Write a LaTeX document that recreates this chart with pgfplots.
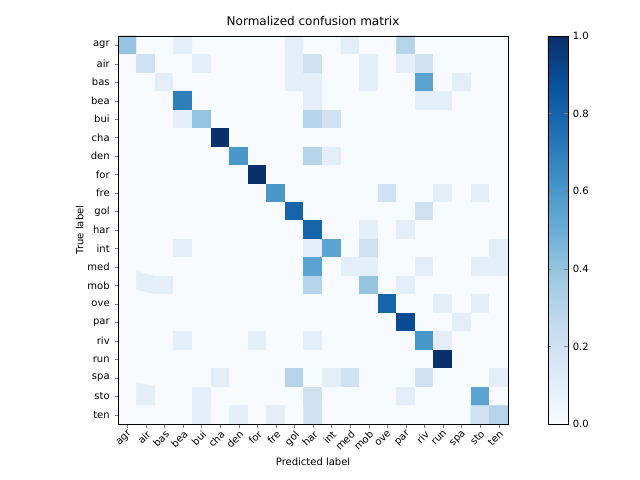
\documentclass[border=0pt]{standalone}
\usepackage{pgfplots}
\pgfplotsset{compat=1.18}
\usepackage{pgfplotstable}
\usepackage{fontspec}
\setmainfont{DejaVu Sans}
\pgfplotstableread[row sep=\\,header=false]{
0.4\\0\\0\\0.1\\0\\0\\0\\0\\0\\0.1\\0\\0\\0.1\\0\\0\\0.3\\0\\0\\0\\0\\0\\
0\\0.2\\0\\0\\0.1\\0\\0\\0\\0\\0.1\\0.2\\0\\0\\0.1\\0\\0.1\\0.2\\0\\0\\0\\0\\
0\\0\\0.1\\0\\0\\0\\0\\0\\0\\0.1\\0.1\\0\\0\\0.1\\0\\0\\0.55\\0\\0.1\\0\\0\\
0\\0\\0\\0.7\\0\\0\\0\\0\\0\\0\\0.1\\0\\0\\0\\0\\0\\0.1\\0.1\\0\\0\\0\\
0\\0\\0\\0.1\\0.4\\0\\0\\0\\0\\0\\0.3\\0.2\\0\\0\\0\\0\\0\\0\\0\\0\\0\\
0\\0\\0\\0\\0\\1\\0\\0\\0\\0\\0\\0\\0\\0\\0\\0\\0\\0\\0\\0\\0\\
0\\0\\0\\0\\0\\0\\0.6\\0\\0\\0\\0.3\\0.1\\0\\0\\0\\0\\0\\0\\0\\0\\0\\
0\\0\\0\\0\\0\\0\\0\\1\\0\\0\\0\\0\\0\\0\\0\\0\\0\\0\\0\\0\\0\\
0\\0\\0\\0\\0\\0\\0\\0\\0.6\\0\\0\\0\\0\\0\\0.2\\0\\0\\0.1\\0\\0.1\\0\\
0\\0\\0\\0\\0\\0\\0\\0\\0\\0.8\\0\\0\\0\\0\\0\\0\\0.2\\0\\0\\0\\0\\
0\\0\\0\\0\\0\\0\\0\\0\\0\\0\\0.8\\0\\0\\0.1\\0\\0.1\\0\\0\\0\\0\\0\\
0\\0\\0\\0.1\\0\\0\\0\\0\\0\\0\\0.1\\0.55\\0\\0.2\\0\\0\\0\\0\\0\\0\\0.1\\
0\\0\\0\\0\\0\\0\\0\\0\\0\\0\\0.55\\0\\0.1\\0.1\\0\\0\\0.1\\0\\0\\0.1\\0.1\\
0\\0.1\\0.1\\0\\0\\0\\0\\0\\0\\0\\0.3\\0\\0\\0.4\\0\\0.1\\0\\0\\0\\0\\0\\
0\\0\\0\\0\\0\\0\\0\\0\\0\\0\\0\\0\\0\\0\\0.8\\0\\0\\0.1\\0\\0.1\\0\\
0\\0\\0\\0\\0\\0\\0\\0\\0\\0\\0\\0\\0\\0\\0\\0.9\\0\\0\\0.1\\0\\0\\
0\\0\\0\\0.1\\0\\0\\0\\0.1\\0\\0\\0.1\\0\\0\\0\\0\\0\\0.6\\0.1\\0\\0\\0\\
0\\0\\0\\0\\0\\0\\0\\0\\0\\0\\0\\0\\0\\0\\0\\0\\0\\1\\0\\0\\0\\
0\\0\\0\\0\\0\\0.1\\0\\0\\0\\0.3\\0\\0.1\\0.2\\0\\0\\0\\0.2\\0\\0\\0\\0.1\\
0\\0.1\\0\\0\\0.1\\0\\0\\0\\0\\0\\0.2\\0\\0\\0\\0\\0.1\\0\\0\\0\\0.55\\0\\
0\\0\\0\\0\\0.1\\0\\0.1\\0\\0.1\\0\\0.2\\0\\0\\0\\0\\0\\0\\0\\0\\0.2\\0.3\\
}\cm
\pgfplotsset{colormap={Blues}{rgb255=(247,251,255) rgb255=(222,235,247) rgb255=(198,219,239) rgb255=(158,202,225) rgb255=(107,174,214) rgb255=(66,146,198) rgb255=(33,113,181) rgb255=(8,81,156) rgb255=(8,48,107)}}
\begin{document}
\begin{tikzpicture}
\useasboundingbox (0,0) rectangle (460.8pt,345.6pt);
\begin{axis}[at={(85pt,40.3pt)},anchor=south west,
 scale only axis, width=280.8pt, height=279.4pt,
 xmin=-0.5,xmax=20.5,ymin=-0.5,ymax=20.5,y dir=reverse,
 enlargelimits=false, axis on top,
 xtick={0,...,20}, ytick={0,...,20},
 xticklabels={agr,air,bas,bea,bui,cha,den,for,fre,gol,har,int,med,mob,ove,par,riv,run,spa,sto,ten},
 yticklabels={agr,air,bas,bea,bui,cha,den,for,fre,gol,har,int,med,mob,ove,par,riv,run,spa,sto,ten},
 xticklabel style={rotate=45,anchor=north east,inner sep=1pt},
 tick label style={font=\fontsize{7.2}{8}\selectfont},
 tick align=outside, tick pos=lower, major tick length=2.5pt,
 xlabel={Predicted label}, ylabel={True label},
 label style={font=\fontsize{7.2}{8}\selectfont},
 ylabel style={yshift=-4pt},
 title={Normalized confusion matrix},
 title style={font=\fontsize{8.64}{10}\selectfont,yshift=-2pt},
 colormap name=Blues, point meta min=0, point meta max=1,
 colorbar,
 colorbar style={at={(parent axis.north east)},anchor=north west,xshift=20.2pt,
   width=14.4pt,height=279.4pt,scale only axis,
   ytick={0,0.2,...,1.0},
   yticklabel style={font=\fontsize{7.2}{8}\selectfont,/pgf/number format/fixed,/pgf/number format/fixed zerofill,/pgf/number format/precision=1,/pgf/number format/assume math mode=true},
   major tick length=2.5pt},
 /pgf/number format/assume math mode=true]
\addplot[matrix plot*, mesh/cols=21, mesh/ordering=x varies, point meta=explicit]
 table[x index=0, y index=0, meta index=0, x expr={mod(\coordindex,21)}, y expr={floor(\coordindex/21)}] {\cm};
\end{axis}
\end{tikzpicture}
\end{document}
